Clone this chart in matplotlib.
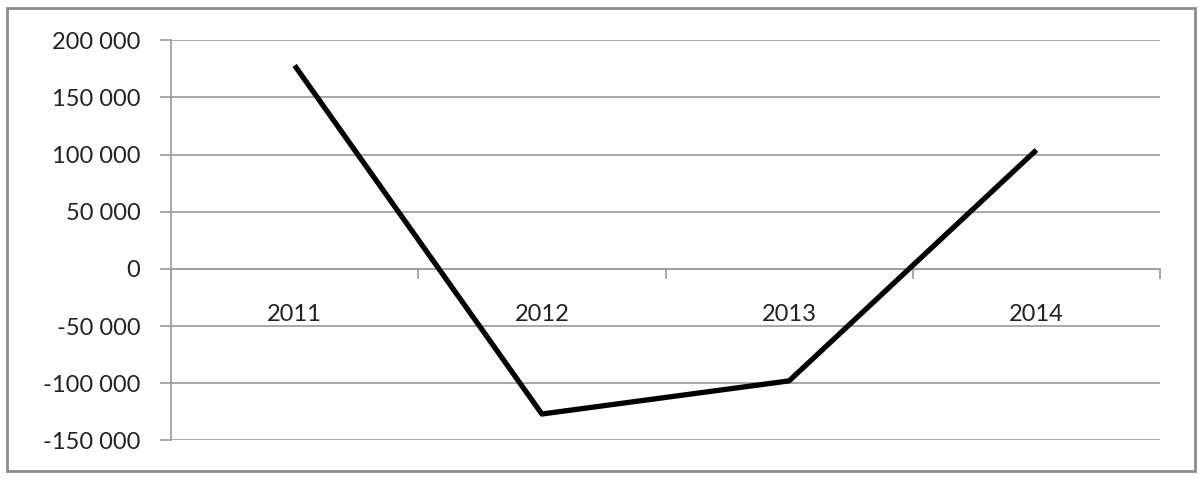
import matplotlib.pyplot as plt
from matplotlib.patches import Rectangle
from matplotlib.ticker import FuncFormatter

years = ['2011', '2012', '2013', '2014']
values = [178000, -127000, -98000, 104000]
yticks = [-150000, -100000, -50000, 0, 50000, 100000, 150000, 200000]

plt.rcParams['font.family'] = ['Lato', 'DejaVu Sans']

fig = plt.figure(figsize=(12, 4.79), dpi=100)
ax = fig.add_axes([171/1200, 38.7/479, (1160-171)/1200, (440.3-40.3)/479])

x = [i + 0.5 for i in range(len(years))]
ax.plot(x, values, color='black', lw=3.8, solid_capstyle='butt', zorder=3)

ax.set_xlim(0, len(years))
ax.set_ylim(-150000, 200000)
ax.set_yticks(yticks)
ax.yaxis.set_major_formatter(FuncFormatter(lambda v, p: f'{int(v):,}'.replace(',', ' ')))
ax.grid(axis='y', color='#a0a0a0', lw=1.3)
ax.set_axisbelow(True)

for s in ['top', 'right']:
    ax.spines[s].set_visible(False)
ax.spines['left'].set_color('#a0a0a0')
ax.spines['left'].set_linewidth(1.3)
ax.spines['bottom'].set_position(('data', 0))
ax.spines['bottom'].set_color('#a0a0a0')
ax.spines['bottom'].set_linewidth(1.3)

ax.tick_params(axis='y', length=8, color='#a0a0a0', width=1.3, labelsize=17, labelcolor='#222222', pad=14)
ax.set_xticks(range(len(years) + 1))
ax.set_xticklabels([])
ax.tick_params(axis='x', which='major', length=7, color='#a0a0a0', width=1.3)
ax.set_xticks(x, minor=True)
ax.set_xticklabels(years, minor=True)
ax.tick_params(axis='x', which='minor', length=0, labelsize=17, labelcolor='#222222', pad=25)

fig.patches.append(Rectangle((7/1200, 8/479), 1188/1200, 463/479, transform=fig.transFigure,
                             fill=False, edgecolor='#8c8c8c', lw=2))

fig.savefig('out.png', dpi=100)
